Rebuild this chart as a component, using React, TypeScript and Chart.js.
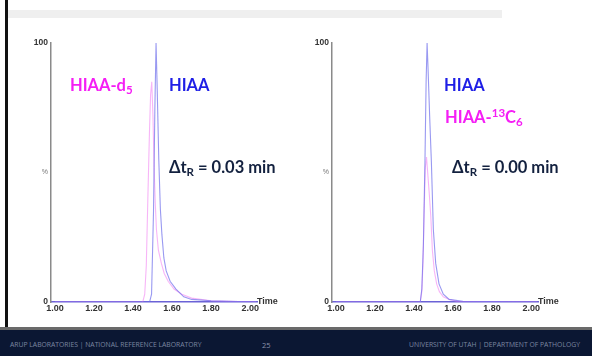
import React, { useEffect, useRef } from 'react';
import { Chart, registerables } from 'chart.js';

Chart.register(...registerables);

// ---- data ----
const xTicks = [1.0, 1.2, 1.4, 1.6, 1.8, 2.0];
const yTicks = [0, 50, 100];
const yTickLabels = ['0', '%', '100'];

// Left panel: HIAA vs HIAA-d5
const leftHiaaTime = [1.0, 1.4, 1.485, 1.495, 1.505, 1.512, 1.518, 1.524, 1.532, 1.54, 1.548, 1.558, 1.57, 1.59, 1.62, 1.66, 1.7, 1.8, 2.03];
const leftHiaaPct = [0, 0, 0, 3, 35, 75, 100, 82, 55, 36, 26, 17, 12, 8, 5, 2, 1, 0.5, 0];
const leftD5Time = [1.0, 1.4, 1.45, 1.46, 1.468, 1.476, 1.484, 1.49, 1.496, 1.502, 1.508, 1.514, 1.52, 1.53, 1.545, 1.56, 1.58, 1.61, 1.65, 1.7, 1.8, 2.03];
const leftD5Pct = [0, 0, 0, 3, 14, 40, 65, 80, 85, 72, 52, 38, 28, 20, 15, 11, 8, 5, 3, 1.5, 0.5, 0];

// Right panel: HIAA vs HIAA-13C6
const rightHiaaTime = [1.0, 1.4, 1.432, 1.44, 1.448, 1.456, 1.462, 1.467, 1.472, 1.48, 1.489, 1.499, 1.511, 1.528, 1.55, 1.58, 1.65, 2.03];
const rightHiaaPct = [0, 0, 0, 5, 22, 54, 85, 100, 90, 72, 54, 28, 15, 7, 3, 1, 0.3, 0];
const rightC6Time = [1.0, 1.4, 1.432, 1.44, 1.446, 1.452, 1.458, 1.464, 1.47, 1.478, 1.486, 1.494, 1.504, 1.516, 1.53, 1.55, 1.58, 1.62, 2.03];
const rightC6Pct = [0, 0, 0, 4, 15, 35, 52, 56, 50, 42, 33, 20, 12, 7, 4, 2, 1, 0.3, 0];

const MAGENTA = '#f51ef5';
const BLUE = '#1e1ee6';
const NAVY = '#13213f';

type Seg = { t: string; color: string; sub?: boolean; sup?: boolean };
type Note = { x: number; y: number; segs: Seg[] };

const leftNotes: Note[] = [
  { x: 1.077, y: 81.5, segs: [{ t: 'HIAA-d', color: MAGENTA }, { t: '5', color: MAGENTA, sub: true }] },
  { x: 1.584, y: 81.5, segs: [{ t: 'HIAA', color: BLUE }] },
  { x: 1.584, y: 49.8, segs: [{ t: 'Δt', color: NAVY }, { t: 'R', color: NAVY, sub: true }, { t: ' = 0.03 min', color: NAVY }] },
];
const rightNotes: Note[] = [
  { x: 1.554, y: 81.5, segs: [{ t: 'HIAA', color: BLUE }] },
  { x: 1.559, y: 69.1, segs: [{ t: 'HIAA-', color: MAGENTA }, { t: '13', color: MAGENTA, sup: true }, { t: 'C', color: MAGENTA }, { t: '6', color: MAGENTA, sub: true }] },
  { x: 1.595, y: 49.8, segs: [{ t: 'Δt', color: NAVY }, { t: 'R', color: NAVY, sub: true }, { t: ' = 0.00 min', color: NAVY }] },
];

const FONT = 'Lato, "Open Sans", sans-serif';
const AXFONT = '"Liberation Sans", Arial, sans-serif';

function toPoints(t: number[], p: number[]) {
  return t.map((x, i) => ({ x, y: p[i] }));
}

const notesPlugin = {
  id: 'notes',
  afterDatasetsDraw(chart: any) {
    const ctx = chart.ctx;
    const notes: Note[] = chart.options.plugins.notes.items;
    const xs = chart.scales.x;
    const ys = chart.scales.y;
    ctx.save();
    ctx.textBaseline = 'alphabetic';
    ctx.textAlign = 'left';
    for (const n of notes) {
      let px = xs.getPixelForValue(n.x);
      const py = ys.getPixelForValue(n.y);
      for (const s of n.segs) {
        const size = s.sub || s.sup ? 11.5 : 16.5;
        ctx.font = `bold ${size}px ${FONT}`;
        ctx.fillStyle = s.color;
        const dy = s.sub ? 3 : s.sup ? -6 : 0;
        ctx.fillText(s.t, px, py + dy);
        px += ctx.measureText(s.t).width;
      }
    }
    // "Time" axis title at the end of the x axis
    const a = chart.chartArea;
    ctx.font = `bold 9px ${AXFONT}`;
    ctx.fillStyle = '#333';
    ctx.textBaseline = 'middle';
    ctx.fillText('Time', a.right, a.bottom);
    ctx.restore();
  },
};

function Chromatogram({ left, hiaa, label, labelColor, notes }: any) {
  const ref = useRef<HTMLCanvasElement>(null);
  useEffect(() => {
    const canvas = ref.current!;
    const chart = new Chart(canvas, {
      type: 'line',
      data: {
        datasets: [
          {
            label: 'HIAA',
            data: hiaa,
            borderColor: 'rgba(110,110,235,0.7)',
            borderWidth: 1.1,
            pointRadius: 0,
            tension: 0,
            fill: false,
          },
          {
            label: label,
            data: labelColor,
            borderColor: 'rgba(240,120,240,0.55)',
            borderWidth: 1.1,
            pointRadius: 0,
            tension: 0,
            fill: false,
          },
        ],
      },
      options: {
        animation: false,
        responsive: false,
        maintainAspectRatio: false,
        layout: { padding: { top: 13, right: 33, left: 0, bottom: 0 } },
        plugins: {
          legend: { display: false },
          tooltip: { enabled: false },
          notes: { items: notes },
        } as any,
        scales: {
          x: {
            type: 'linear',
            min: 0.98,
            max: 2.035,
            afterBuildTicks: (s: any) => {
              s.ticks = xTicks.map((v) => ({ value: v }));
            },
            afterFit: (s: any) => {
              s.height = 18;
            },
            grid: { display: false, drawTicks: false },
            border: { color: '#6b62d6', width: 1.5 },
            ticks: {
              font: { family: AXFONT, weight: 'bold', size: 9 },
              color: '#333',
              padding: 1,
              maxRotation: 0,
              autoSkip: false,
              callback: (v: any) => Number(v).toFixed(2),
            },
          },
          y: {
            type: 'linear',
            min: 0,
            max: 100,
            afterBuildTicks: (s: any) => {
              s.ticks = yTicks.map((v) => ({ value: v }));
            },
            afterFit: (s: any) => {
              s.width = 31;
            },
            grid: { display: false, drawTicks: false },
            border: { color: '#8a8a8a', width: 1.5 },
            ticks: {
              font: (c: any) =>
                c.tick && c.tick.value === 50
                  ? { family: AXFONT, size: 7 }
                  : { family: AXFONT, weight: 'bold', size: 8.5 },
              color: (c: any) => (c.tick && c.tick.value === 50 ? '#777' : '#333'),
              padding: 3,
              autoSkip: false,
              callback: (v: any) => yTickLabels[yTicks.indexOf(Number(v))] ?? '',
            },
          },
        },
      } as any,
      plugins: [notesPlugin],
    });
    return () => chart.destroy();
  }, []);
  return (
    <canvas
      ref={ref}
      width={270}
      height={290}
      style={{ position: 'absolute', left, top: 30, width: 270, height: 290, display: 'block' }}
    />
  );
}

export default function App() {
  const footText: React.CSSProperties = {
    position: 'absolute',
    top: 340,
    fontFamily: '"Open Sans", Lato, sans-serif',
    fontSize: 6.8,
    lineHeight: '10px',
    color: '#7b86a0',
    whiteSpace: 'nowrap',
    letterSpacing: 0,
  };
  return (
    <div
      style={{
        position: 'fixed',
        left: 0,
        top: 0,
        width: 592,
        height: 356,
        background: '#ffffff',
        overflow: 'hidden',
      }}
    >
      <div style={{ position: 'absolute', left: 5, top: 0, width: 2.5, height: 328, background: '#111' }} />
      <div style={{ position: 'absolute', left: 8, top: 10, width: 494, height: 8, background: '#efefef' }} />
      <Chromatogram
        left={20}
        hiaa={toPoints(leftHiaaTime, leftHiaaPct)}
        label="HIAA-d5"
        labelColor={toPoints(leftD5Time, leftD5Pct)}
        notes={leftNotes}
      />
      <Chromatogram
        left={301}
        hiaa={toPoints(rightHiaaTime, rightHiaaPct)}
        label="HIAA-13C6"
        labelColor={toPoints(rightC6Time, rightC6Pct)}
        notes={rightNotes}
      />
      <div style={{ position: 'absolute', left: 0, top: 327, width: 592, height: 3, background: '#6a6a6a' }} />
      <div style={{ position: 'absolute', left: 0, top: 330, width: 592, height: 26, background: '#0b1733' }} />
      <div style={{ ...footText, left: 10 }}>ARUP LABORATORIES | NATIONAL REFERENCE LABORATORY</div>
      <div style={{ ...footText, left: 262, fontSize: 7.5, color: '#8a93ab' }}>25</div>
      <div style={{ ...footText, right: 12 }}>UNIVERSITY OF UTAH | DEPARTMENT OF PATHOLOGY</div>
    </div>
  );
}
